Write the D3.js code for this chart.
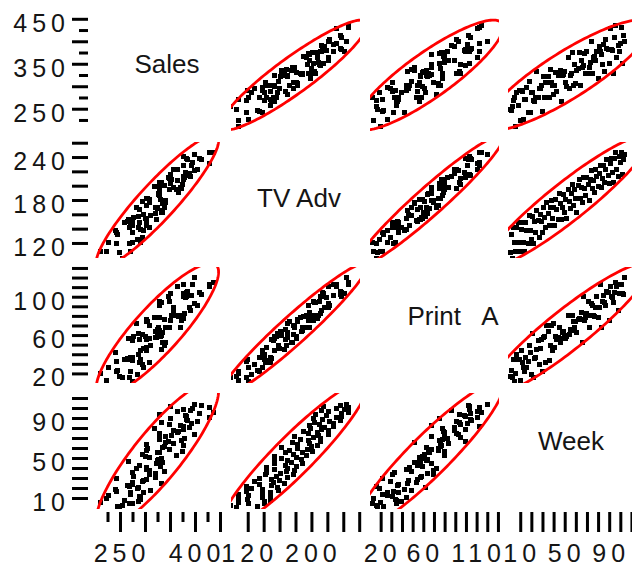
<!DOCTYPE html>
<html>
<head>
<meta charset="utf-8">
<script src="https://cdn.jsdelivr.net/npm/d3@7"></script>
<style>
body { margin: 0; background: #fff; }
text { font-family: "Liberation Sans", Arial, sans-serif; fill: #151515; }
</style>
</head>
<body>
<script>
// variables shown in the matrix
var names = ["Sales", "TV Adv", "Print\u00a0\u00a0 A", "Week"];

var week = [1,2,3,4,5,6,7,8,9,10, 11,12,13,14,15,16,17,18,19,20,
  21,22,23,24,25,26,27,28,29,30, 31,32,33,34,35,36,37,38,39,40,
  41,42,43,44,45,46,47,48,49,50, 51,52,53,54,55,56,57,58,59,60,
  61,62,63,64,65,66,67,68,69,70, 71,72,73,74,75,76,77,78,79,80,
  81,82,83,84,85,86,87,88,89,90, 91,92,93,94,95,96,97,98,99,100,
  101,102,103,104];

var sales = [249,245,255,268,274,210,286,258,290,223, 291,289,227,271,271,297,242,311,241,285,
  287,269,265,275,332,274,294,296,302,243, 321,276,308,309,321,275,338,308,302,282,
  302,330,288,323,327,335,267,324,327,332, 309,300,363,294,324,328,375,302,349,305,
  334,339,376,302,357,341,346,372,328,378, 329,341,352,399,329,365,366,357,377,318,
  389,377,370,348,393,333,404,384,382,351, 428,382,380,329,409,436,365,390,377,394,
  430,350,412,399];

var tv = [106,132,98,141,121,108,141,149,120,108, 139,148,121,108,148,138,119,159,138,125,
  157,119,150,135,166,152,128,160,150,135, 170,156,142,177,161,144,169,179,154,170,
  144,181,167,153,189,175,153,170,187,163, 181,154,194,178,168,189,201,173,195,182,
  163,200,208,182,198,176,211,196,186,212, 202,179,209,221,196,207,190,222,213,199,
  217,228,197,210,228,204,223,236,214,203, 231,238,219,205,238,246,222,213,241,232,
  246,215,237,244];

var print = [17,23,16,35,12,20,40,35,34,13, 44,31,26,22,37,26,32,49,42,19,
  62,16,36,37,45,54,29,46,55,22, 57,58,31,70,64,33,49,70,44,72,
  47,59,55,57,68,52,56,63,64,60, 56,59,80,61,66,65,80,74,68,74,
  63,76,77,76,84,52,100,75,78,83, 95,68,80,93,91,80,79,89,100,78,
  89,113,68,95,101,94,91,105,104,75, 111,100,99,94,104,115,111,86,103,113,
  113,103,102,120];

// ticks: long ticks, short ticks, labels (left side / bottom side)
var salesMajor = [250, 300, 350, 400, 450], salesMinor = [225, 275, 325, 375, 425];
var salesLeft = [250, 350, 450], salesBottom = [250, 400];
var tvMajor = [120, 140, 160, 180, 200, 220, 240, 260], tvMinor = [];
var tvLeft = [120, 180, 240], tvBottom = [120, 200];
var printMajor = [20, 30, 40, 50, 60, 70, 80, 90, 100, 110, 120, 130], printMinor = [];
var printLeft = [20, 60, 100], printBottom = [20, 60, 110];
var weekMajor = [10, 20, 30, 40, 50, 60, 70, 80, 90, 100, 110], weekMinor = [];
var weekLeft = [10, 50, 90], weekBottom = [10, 50, 90];

var cols = [sales, tv, print, week];
var domains = [[196, 454], [99, 261], [10, 131], [-1, 115]];
var majors = [salesMajor, tvMajor, printMajor, weekMajor];
var minors = [salesMinor, tvMinor, printMinor, weekMinor];
var leftLabels = [salesLeft, tvLeft, printLeft, weekLeft];
var bottomLabels = [salesBottom, tvBottom, printBottom, weekBottom];

var width = 632, height = 566;
var colX = [93, 231, 370, 508], colW = 129;
var rowY = [17, 142, 267, 393], rowH = 116;
var labelPos = [[167, 64], [299, 198], [453, 316], [571, 441]];

var svg = d3.select("body").append("svg")
    .attr("width", width)
    .attr("height", height);

var xs = domains.map(function(d, i) {
  return d3.scaleLinear().domain(d).range([colX[i], colX[i] + colW]);
});
var ys = domains.map(function(d, i) {
  return d3.scaleLinear().domain(d).range([rowY[i] + rowH, rowY[i]]);
});

var n = week.length;
var k = Math.sqrt(5.991); // 95% ellipse

function ellipse(xv, yv) {
  var mx = d3.mean(xv), my = d3.mean(yv);
  var sxx = 0, syy = 0, sxy = 0;
  for (var i = 0; i < xv.length; i++) {
    sxx += (xv[i] - mx) * (xv[i] - mx);
    syy += (yv[i] - my) * (yv[i] - my);
    sxy += (xv[i] - mx) * (yv[i] - my);
  }
  sxx /= xv.length - 1; syy /= xv.length - 1; sxy /= xv.length - 1;
  // cholesky
  var a = Math.sqrt(sxx), b = sxy / a, c = Math.sqrt(syy - b * b);
  return d3.range(0, 181).map(function(j) {
    var t = j / 180 * 2 * Math.PI;
    var u = Math.cos(t) * k, v = Math.sin(t) * k;
    return [mx + a * u, my + b * u + c * v];
  });
}

var defs = svg.append("defs");

for (var r = 0; r < 4; r++) {
  for (var c = 0; c < 4; c++) {
    if (r == c) {
      svg.append("text")
        .attr("x", labelPos[r][0])
        .attr("y", labelPos[r][1])
        .attr("text-anchor", "middle")
        .attr("dominant-baseline", "central")
        .attr("font-size", "26px")
        .text(names[r]);
      continue;
    }
    var id = "clip" + r + c;
    defs.append("clipPath").attr("id", id)
      .append("rect")
      .attr("x", colX[c]).attr("y", rowY[r])
      .attr("width", colW).attr("height", rowH);

    var g = svg.append("g").attr("clip-path", "url(#" + id + ")");
    var xv = cols[c], yv = cols[r], x = xs[c], y = ys[r];

    g.selectAll("rect.pt")
      .data(d3.range(n))
      .enter().append("rect")
      .attr("class", "pt")
      .attr("x", function(i) { return Math.round(x(xv[i]) - 2.5); })
      .attr("y", function(i) { return Math.round(y(yv[i]) - 2.5); })
      .attr("width", 5)
      .attr("height", 5)
      .attr("fill", "#000");

    g.append("path")
      .datum(ellipse(xv, yv))
      .attr("d", d3.line()
        .x(function(p) { return x(p[0]); })
        .y(function(p) { return y(p[1]); }))
      .attr("fill", "none")
      .attr("stroke", "#f00")
      .attr("stroke-width", 2.8);
  }
}

function styleAxis(sel) {
  sel.select(".domain").remove();
  sel.selectAll(".tick line").attr("stroke", "#000").attr("stroke-width", 3);
}

// left axes
for (var r = 0; r < 4; r++) {
  svg.append("g").attr("transform", "translate(88,0)")
    .call(d3.axisLeft(ys[r]).tickValues(majors[r]).tickSize(16).tickFormat(""))
    .call(styleAxis);
  if (minors[r].length)
    svg.append("g").attr("transform", "translate(88,0)")
      .call(d3.axisLeft(ys[r]).tickValues(minors[r]).tickSize(9).tickFormat(""))
      .call(styleAxis);
  svg.append("g").selectAll("text")
    .data(leftLabels[r])
    .enter().append("text")
    .attr("x", 70)
    .attr("y", function(v) { return ys[r](v) + 4; })
    .attr("text-anchor", "end")
    .attr("dominant-baseline", "central")
    .attr("font-size", "25px")
    .attr("letter-spacing", "5px")
    .text(function(v) { return v; });
}

// bottom axes
for (var c = 0; c < 4; c++) {
  svg.append("g").attr("transform", "translate(0,512)")
    .call(d3.axisBottom(xs[c]).tickValues(majors[c]).tickSize(20).tickFormat(""))
    .call(styleAxis);
  if (minors[c].length)
    svg.append("g").attr("transform", "translate(0,512)")
      .call(d3.axisBottom(xs[c]).tickValues(minors[c]).tickSize(10).tickFormat(""))
      .call(styleAxis);
  svg.append("g").selectAll("text")
    .data(bottomLabels[c])
    .enter().append("text")
    .attr("x", function(v) { return xs[c](v) + 2; })
    .attr("y", 562)
    .attr("text-anchor", "middle")
    .attr("font-size", "25px")
    .attr("letter-spacing", "5px")
    .text(function(v) { return v; });
}
</script>
</body>
</html>
